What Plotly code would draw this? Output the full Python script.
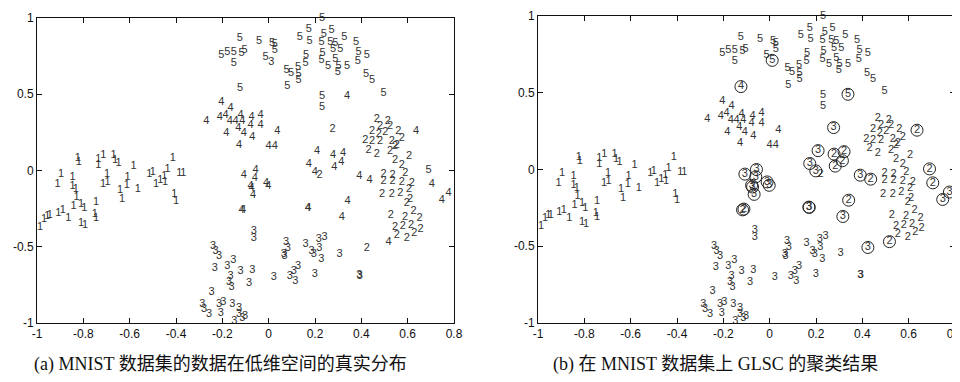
import plotly.graph_objects as go

# ---- data: point coordinates, ground-truth digit (left panel), GLSC cluster label (right panel)
x_vals = [
    # class 1
    -0.824,-0.82,-0.735,-0.735,-0.714,-0.669,-0.663,-0.648,-0.583,-0.414,-0.896,-0.911,-0.846,-0.846,-0.832,-0.829,
    -0.698,-0.715,-0.695,-0.609,-0.612,-0.642,-0.633,-0.565,-0.515,-0.50,-0.486,-0.468,-0.45,-0.447,-0.436,-0.386,
    -0.368,-0.407,-0.40,-0.842,-0.81,-0.796,-0.745,-0.75,-0.745,-0.81,-0.793,-0.908,-0.889,-0.865,-0.987,-0.97,-0.955,-0.945,
    # class 5
    0.23,0.173,0.134,0.176,0.238,0.271,0.228,0.266,0.288,0.309,0.278,0.327,0.377,0.388,0.424,0.161,0.159,0.233,0.228,
    0.256,0.288,0.302,0.298,0.338,0.385,-0.125,-0.042,0.015,0.027,0.027,-0.204,-0.178,-0.15,-0.117,-0.104,-0.15,-0.013,
    0.077,0.097,0.127,0.129,0.129,0.08,0.42,0.446,0.496,0.23,0.23,-0.124,0.69,
    # class 3
    0.011,-0.064,-0.064,0.075,0.083,0.065,0.069,0.159,0.185,0.195,0.216,0.241,0.219,0.227,0.306,-0.24,-0.229,-0.214,
    -0.232,-0.178,-0.153,-0.164,-0.121,-0.071,-0.171,-0.16,-0.085,-0.247,-0.286,-0.279,-0.257,-0.214,-0.196,-0.207,
    -0.157,-0.128,-0.128,-0.102,-0.148,-0.114,0.022,0.091,0.115,0.108,0.127,0.199,0.391,0.393,
    # class 2
    0.276,0.467,0.514,0.481,0.524,0.446,0.475,0.503,0.56,0.575,0.417,0.446,0.481,0.532,0.553,0.431,0.467,0.524,0.546,
    0.546,0.575,0.606,0.496,0.535,0.59,0.496,0.535,0.575,0.618,0.489,0.532,0.568,0.606,0.596,0.61,0.527,0.589,0.625,
    0.651,0.546,0.579,0.615,0.656,0.553,0.596,0.629,0.22,0.424,
    # class 4
    -0.204,-0.164,-0.269,-0.211,-0.186,-0.168,-0.143,-0.121,-0.114,-0.074,-0.078,-0.035,-0.035,-0.183,-0.131,-0.107,
    -0.071,0.037,-0.128,0.0,0.027,0.338,0.636,0.209,0.278,0.321,0.173,0.199,0.283,0.314,-0.107,-0.057,-0.06,-0.078,
    -0.074,-0.067,-0.011,-0.002,-0.117,-0.111,0.169,0.171,0.341,0.316,0.391,0.436,0.517,0.704,0.747,0.776,
]
y_vals = [
    # class 1
    0.083,0.057,0.072,0.035,0.10,0.10,0.066,0.05,0.028,0.083,-0.022,-0.088,-0.044,-0.10,-0.125,-0.175,
    -0.022,-0.088,-0.074,-0.044,-0.098,-0.131,-0.19,-0.125,-0.022,-0.009,-0.088,-0.066,-0.037,-0.077,0.007,-0.015,
    -0.015,-0.158,-0.20,-0.234,-0.219,-0.25,-0.206,-0.284,-0.31,-0.344,-0.359,-0.278,-0.263,-0.315,-0.37,-0.32,-0.30,-0.295,
    # class 5
    0.996,0.923,0.873,0.847,0.895,0.917,0.842,0.842,0.836,0.792,0.792,0.873,0.84,0.777,0.755,0.755,0.705,0.770,0.72,
    0.683,0.727,0.683,0.646,0.683,0.716,0.864,0.847,0.836,0.825,0.786,0.759,0.777,0.775,0.77,0.786,0.705,0.742,
    0.659,0.635,0.676,0.628,0.589,0.551,0.628,0.589,0.508,0.486,0.414,0.54,0.004,
    # class 3
    0.711,-0.398,-0.442,-0.47,-0.508,-0.551,-0.562,-0.481,-0.53,-0.551,-0.453,-0.438,-0.508,-0.584,-0.547,-0.497,-0.53,-0.562,
    -0.639,-0.628,-0.591,-0.694,-0.661,-0.656,-0.733,-0.766,-0.737,-0.796,-0.88,-0.908,-0.945,-0.88,-0.862,-0.934,
    -0.875,-0.902,-0.945,-0.956,-0.99,-0.967,-0.70,-0.694,-0.726,-0.661,-0.628,-0.683,-0.689,-0.691,
    # class 2
    0.273,0.333,0.322,0.289,0.289,0.26,0.238,0.252,0.26,0.212,0.2,0.19,0.19,0.195,0.168,0.136,0.107,0.125,0.158,
    0.07,0.037,0.092,-0.026,-0.03,-0.015,-0.07,-0.07,-0.074,-0.081,-0.158,-0.158,-0.147,-0.125,-0.212,-0.19,-0.295,-0.306,-0.267,
    -0.315,-0.37,-0.365,-0.359,-0.383,-0.424,-0.442,-0.409,-0.03,-0.508,
    # class 4
    0.446,0.409,0.326,0.348,0.365,0.322,0.322,0.361,0.322,0.348,0.30,0.365,0.30,0.245,0.278,0.245,
    0.217,0.256,0.168,0.158,0.158,0.49,0.256,0.123,0.10,0.116,0.039,-0.009,0.022,0.057,-0.03,0.0,-0.048,-0.103,
    -0.114,-0.162,-0.081,-0.103,-0.263,-0.258,-0.245,-0.247,-0.20,-0.306,-0.037,-0.063,-0.47,-0.087,-0.195,-0.147,
]
true_labels = (
    ["1"] * 50
    + ["5"] * 50
    + ["3"] * 48
    + ["2"] * 48
    + ["4"] * 50
)
pred_labels = (
    ["1"] * 50
    + ["5"] * 48 + ["4", "2"]
    + ["5"] + ["3"] * 47
    + ["3"] + ["2"] * 46 + ["3"]
    + ["4"] * 21
    + ["5", "2", "3", "2", "2", "3", "3", "2", "2",
       "3", "3", "3", "3", "3", "3", "3", "3", "2", "2",
       "3", "3", "2", "3", "3", "2", "2", "2", "3", "3"]
)

x_ticks = [-1, -0.8, -0.6, -0.4, -0.2, 0, 0.2, 0.4, 0.6, 0.8]
x_tick_text = ["-1", "-0.8", "-0.6", "-0.4", "-0.2", "0", "0.2", "0.4", "0.6", "0.8"]
y_ticks = [-1, -0.5, 0, 0.5, 1]
y_tick_text = ["-1", "-0.5", "0", "0.5", "1"]
captions = ["(a) MNIST 数据集的数据在低维空间的真实分布", "(b) 在 MNIST 数据集上 GLSC 的聚类结果"]

TXT = "#333333"
digit_font = dict(family="Liberation Sans, Arial, sans-serif", size=11, color=TXT)

wrong_x = [x for x, t, p in zip(x_vals, true_labels, pred_labels) if t != p]
wrong_y = [y for y, t, p in zip(y_vals, true_labels, pred_labels) if t != p]

fig = go.Figure()
fig.add_trace(go.Scatter(x=x_vals, y=y_vals, text=true_labels, mode="text",
                         textfont=digit_font, cliponaxis=False, xaxis="x", yaxis="y",
                         showlegend=False, hoverinfo="skip"))
fig.add_trace(go.Scatter(x=x_vals, y=y_vals, text=pred_labels, mode="text",
                         textfont=digit_font, cliponaxis=False, xaxis="x2", yaxis="y2",
                         showlegend=False, hoverinfo="skip"))
fig.add_trace(go.Scatter(x=wrong_x, y=wrong_y, mode="markers",
                         marker=dict(symbol="circle-open", size=12, color="#222",
                                     line=dict(width=1, color="#222")),
                         cliponaxis=False, xaxis="x2", yaxis="y2",
                         showlegend=False, hoverinfo="skip"))

tick_font = dict(family="Liberation Sans Narrow, Liberation Sans, Arial", size=12, color="#111")
ax_common = dict(showline=True, linecolor="#111", linewidth=1, mirror="ticks", ticks="inside",
                 ticklen=5, tickcolor="#111", showgrid=False, zeroline=False, tickfont=tick_font,
                 automargin=False, fixedrange=True)

cap_font = dict(family="Liberation Serif, Noto Sans CJK SC", size=18, color="#111")

fig.update_layout(
    width=960, height=382, margin=dict(l=0, r=0, t=0, b=0, autoexpand=False),
    paper_bgcolor="white", plot_bgcolor="white",
    xaxis=dict(domain=[29 / 960, 446 / 960], range=[-1, 0.8], tickvals=x_ticks, ticktext=x_tick_text,
               anchor="y", **ax_common),
    yaxis=dict(domain=[(382 - 315) / 382, (382 - 10) / 382], range=[-1, 1], tickvals=y_ticks,
               ticktext=y_tick_text, anchor="x", **ax_common),
    xaxis2=dict(domain=[530 / 960, 947 / 960], range=[-1, 0.8], tickvals=x_ticks, ticktext=x_tick_text,
                anchor="y2", **ax_common),
    yaxis2=dict(domain=[(382 - 315) / 382, (382 - 8) / 382], range=[-1, 1], tickvals=y_ticks,
                ticktext=y_tick_text, anchor="x2", **ax_common),
    annotations=[
        dict(text=captions[0], x=212 / 960, y=(382 - 356) / 382, xref="paper", yref="paper",
             showarrow=False, xanchor="center", yanchor="middle", font=cap_font),
        dict(text=captions[1], x=707 / 960, y=(382 - 356) / 382, xref="paper", yref="paper",
             showarrow=False, xanchor="center", yanchor="middle", font=cap_font),
    ],
)

fig.write_html("out.html")
